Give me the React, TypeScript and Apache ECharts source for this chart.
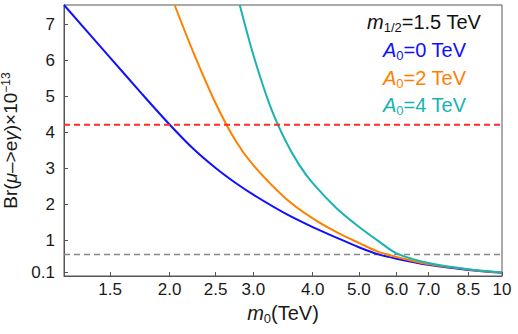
import React, { useEffect, useRef } from "react";
import * as echarts from "echarts";

// ---- data ----
const X_TICKS = [1.5, 2.0, 2.5, 3.0, 4.0, 5.0, 6.0, 7.0, 8.5, 10];
const X_TICK_LABELS = ["1.5", "2.0", "2.5", "3.0", "4.0", "5.0", "6.0", "7.0", "8.5", "10"];
const Y_TICKS = [0.1, 1, 2, 3, 4, 5, 6, 7];
const Y_TICK_LABELS = ["0.1", "1", "2", "3", "4", "5", "6", "7"];
const X_MIN = 1.2;
const X_MAX = 10;
const Y_MIN = 0;
const Y_MAX = 7.53;

const blueM0 = [1.2, 1.5, 1.75, 2.0, 2.25, 2.5, 2.75, 3.0, 3.5, 4.0, 4.5, 5.0, 5.5, 6.0, 7.0, 8.5, 10];
const blueBr = [7.53, 6.07, 5.06, 4.21, 3.52, 3.0, 2.59, 2.26, 1.74, 1.36, 1.06, 0.8, 0.6, 0.48, 0.31, 0.17, 0.09];

const orangeM0 = [2.05, 2.25, 2.5, 2.75, 3.0, 3.5, 4.0, 4.5, 5.0, 5.5, 6.0, 7.0, 8.5, 10];
const orangeBr = [7.53, 6.18, 4.8, 3.77, 3.08, 2.17, 1.6, 1.21, 0.92, 0.67, 0.53, 0.33, 0.18, 0.09];

const tealM0 = [2.81, 3.0, 3.25, 3.5, 3.75, 4.0, 4.5, 5.0, 5.5, 6.0, 7.0, 8.5, 10];
const tealBr = [7.53, 6.15, 4.75, 3.78, 3.08, 2.58, 1.87, 1.37, 0.97, 0.63, 0.36, 0.19, 0.1];

const MEG_LIMIT = 4.2;
const MEG2_LIMIT = 0.6;

const COLORS = { blue: "#1010ff", orange: "#ff8000", teal: "#19b3b3", red: "#ff2a2a", gray: "#888888" };

const FONT = "Liberation Sans, Arial, sans-serif";

function toX(m0: number) {
  return Math.log(m0);
}

function pairs(xs: number[], ys: number[]) {
  return xs.map((x, i) => [toX(x), ys[i]]);
}

export default function App() {
  const ref = useRef<HTMLDivElement>(null);

  useEffect(() => {
    if (!ref.current) return;
    const chart = echarts.init(ref.current, undefined, { renderer: "svg" });

    const xTickPos = X_TICKS.map(toX);
    const xLabel = (v: number) => {
      let best = 0;
      for (let i = 0; i < xTickPos.length; i++) {
        if (Math.abs(xTickPos[i] - v) < Math.abs(xTickPos[best] - v)) best = i;
      }
      return X_TICK_LABELS[best];
    };
    const yLabel = (v: number) => {
      let best = 0;
      for (let i = 0; i < Y_TICKS.length; i++) {
        if (Math.abs(Y_TICKS[i] - v) < Math.abs(Y_TICKS[best] - v)) best = i;
      }
      return Y_TICK_LABELS[best];
    };

    const frameColor = "#555555";
    const legendText = (text: string, x: number, y: number, color: string) => ({
      type: "text",
      left: x,
      top: y,
      style: {
        text,
        fill: color,
        rich: {
          i: { fontFamily: FONT, fontSize: 20, fontStyle: "italic", lineHeight: 24, fill: color },
          s: { fontFamily: FONT, fontSize: 13, verticalAlign: "bottom", lineHeight: 13, fill: color },
          n: { fontFamily: FONT, fontSize: 20, lineHeight: 24, fill: color },
        },
      },
    });

    const curve = (name: string, xs: number[], ys: number[], color: string) => ({
      type: "line",
      name,
      data: pairs(xs, ys),
      showSymbol: false,
      smooth: 0.3,
      clip: true,
      lineStyle: { color, width: 2 },
    });

    chart.setOption({
      animation: false,
      grid: {
        left: 64,
        right: 16,
        top: 5,
        bottom: 58,
        show: true,
        borderColor: frameColor,
        borderWidth: 1,
        containLabel: false,
        outerBoundsMode: "none",
      },
      xAxis: {
        type: "value",
        min: toX(X_MIN),
        max: toX(X_MAX),
        splitLine: { show: false },
        axisLine: { show: true, onZero: false, lineStyle: { color: frameColor, width: 1 } },
        axisTick: { show: true, inside: true, length: 4, customValues: xTickPos, lineStyle: { color: frameColor } },
        axisLabel: {
          customValues: xTickPos,
          formatter: xLabel,
          color: "#1a1a1a",
          fontFamily: FONT,
          fontSize: 17,
          margin: 5,
        },
        name: "{i|m}{s|0}{n|(TeV)}",
        nameLocation: "middle",
        nameGap: 23,
        nameTextStyle: {
          color: "#1a1a1a",
          rich: {
            i: { fontFamily: FONT, fontSize: 20, fontStyle: "italic", lineHeight: 24, color: "#1a1a1a" },
            s: { fontFamily: FONT, fontSize: 13, verticalAlign: "bottom", lineHeight: 13, color: "#1a1a1a" },
            n: { fontFamily: FONT, fontSize: 20, lineHeight: 24, color: "#1a1a1a" },
          },
        },
      },
      yAxis: {
        type: "value",
        min: Y_MIN,
        max: Y_MAX,
        splitLine: { show: false },
        axisLine: { show: true, lineStyle: { color: frameColor, width: 1 } },
        axisTick: { show: true, inside: true, length: 4, customValues: Y_TICKS, lineStyle: { color: frameColor } },
        axisLabel: {
          customValues: Y_TICKS,
          formatter: yLabel,
          color: "#1a1a1a",
          fontFamily: FONT,
          fontSize: 17,
          margin: 9,
        },
        name: "{n|Br(}{i|μ}{n|–>e}{i|γ}{n|)×10}{p|−13}",
        nameLocation: "middle",
        nameRotate: 90,
        nameGap: 31,
        nameTextStyle: {
          color: "#1a1a1a",
          rich: {
            i: { fontFamily: FONT, fontSize: 19, fontStyle: "italic", lineHeight: 22, color: "#1a1a1a" },
            p: { fontFamily: FONT, fontSize: 12, verticalAlign: "top", lineHeight: 12, color: "#1a1a1a" },
            n: { fontFamily: FONT, fontSize: 19, lineHeight: 22, color: "#1a1a1a" },
          },
        },
      },
      graphic: [
        legendText("{i|m}{s|1/2}{n|=1.5 TeV}", 367, 12, "#111111"),
        legendText("{i|A}{s|0}{n|=0 TeV}", 383, 40, COLORS.blue),
        legendText("{i|A}{s|0}{n|=2 TeV}", 383, 68, COLORS.orange),
        legendText("{i|A}{s|0}{n|=4 TeV}", 383, 95, COLORS.teal),
      ],
      series: [
        {
          type: "line",
          name: "MEG II",
          data: [
            [toX(X_MIN), MEG2_LIMIT],
            [toX(X_MAX), MEG2_LIMIT],
          ],
          showSymbol: false,
          silent: true,
          lineStyle: { color: COLORS.gray, width: 1.5, type: [6, 4] },
        },
        curve("A0=0", blueM0, blueBr, COLORS.blue),
        curve("A0=2", orangeM0, orangeBr, COLORS.orange),
        curve("A0=4", tealM0, tealBr, COLORS.teal),
        {
          type: "line",
          name: "MEG",
          data: [
            [toX(X_MIN), MEG_LIMIT],
            [toX(X_MAX), MEG_LIMIT],
          ],
          showSymbol: false,
          silent: true,
          lineStyle: { color: COLORS.red, width: 2, type: [6, 4] },
        },
      ],
    });

    return () => chart.dispose();
  }, []);

  return (
    <div
      ref={ref}
      style={{ position: "fixed", left: 0, top: 0, width: 518, height: 334, background: "#ffffff" }}
    />
  );
}
